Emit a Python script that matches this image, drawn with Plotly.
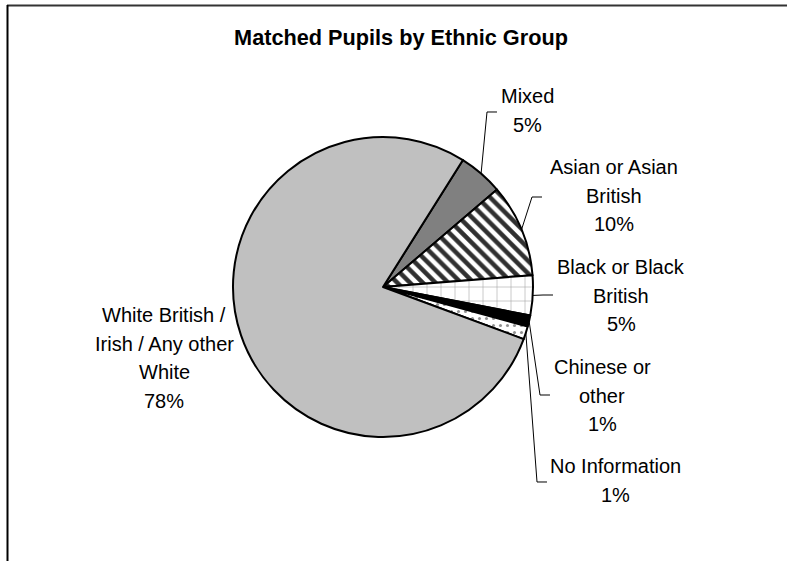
import math
import plotly.graph_objects as go

# ---- data ----
categories = ["Mixed", "Asian or Asian British", "Black or Black British",
              "Chinese or other", "No Information",
              "White British / Irish / Any other White"]
values = [4.8, 10.0, 4.3, 1.2, 1.4, 78.3]
pct_labels = ["5%", "10%", "5%", "1%", "1%", "78%"]
label_lines = [["Mixed"], ["Asian or Asian", "British"], ["Black or Black", "British"],
               ["Chinese or", "other"], ["No Information"],
               ["White British /", "Irish / Any other", "White"]]

# ---- layout / style (pixels) ----
W, H = 787, 561
CX, CY, R = 383, 287, 150
ROT = 32.2
label_pos = [(527, 96), (614, 167), (621, 267), (602, 367), (615, 466), (164, 315)]
line_gap = 28.6
leader_elbow = [(487, 112), (532, 197), (543, 295), (540, 395), (537, 482), None]
leader_end = [(497, 112), (542, 197), (553, 295), (550, 395), (547, 482), None]

colors = ["#808080", "#ffffff", "#ffffff", "#000000", "#ffffff", "#c0c0c0"]
patterns = [
    dict(shape=""),
    dict(shape="\\", fgcolor="#303030", bgcolor="#ffffff", size=9, solidity=0.5),
    dict(shape="+", fgcolor="#a0a0a0", bgcolor="#ffffff", size=14, solidity=0.08),
    dict(shape=""),
    dict(shape=".", fgcolor="#909090", bgcolor="#ffffff", size=7, solidity=0.15),
    dict(shape=""),
]


def P(x, y):
    return x / W, 1 - y / H


fig = go.Figure(go.Pie(
    labels=categories, values=values, sort=False, direction="clockwise",
    rotation=ROT, textinfo="none", hoverinfo="label+percent",
    marker=dict(colors=colors, line=dict(color="black", width=2),
                pattern=dict(shape=[p.get("shape", "") for p in patterns],
                             fgcolor=[p.get("fgcolor", "#000") for p in patterns],
                             bgcolor=[p.get("bgcolor", c) for p, c in zip(patterns, colors)],
                             size=[p.get("size", 8) for p in patterns],
                             solidity=[p.get("solidity", 0.3) for p in patterns],
                             fgopacity=1, fillmode="replace")),
    domain=dict(x=[(CX - R) / W, (CX + R) / W], y=[1 - (CY + R) / H, 1 - (CY - R) / H]),
    showlegend=False,
))

annotations = []
shapes = []
font = dict(family="Liberation Sans, Arial, sans-serif", size=20, color="black")

total = sum(values)
cum = 0
for i, v in enumerate(values):
    mid = ROT + (cum + v / 2) / total * 360
    cum += v
    lines = label_lines[i] + [pct_labels[i]]
    lx, ly = label_pos[i]
    for k, t in enumerate(lines):
        ax_, ay_ = P(lx, ly + k * line_gap)
        annotations.append(dict(x=ax_, y=ay_, xref="paper", yref="paper", text=t,
                                showarrow=False, xanchor="center", yanchor="middle",
                                font=font))
    if leader_elbow[i] is not None:
        a = math.radians(mid)
        ex, ey = CX + R * math.sin(a), CY - R * math.cos(a)
        pts = [P(ex, ey), P(*leader_elbow[i]), P(*leader_end[i])]
        path = "M %f,%f L %f,%f L %f,%f" % (pts[0][0], pts[0][1], pts[1][0], pts[1][1],
                                             pts[2][0], pts[2][1])
        shapes.append(dict(type="path", xref="paper", yref="paper", path=path,
                           line=dict(color="black", width=1)))

# chart border (top and left)
x0, y0 = P(7, 5.5)
x1, _ = P(787, 5.5)
shapes.append(dict(type="line", xref="paper", yref="paper", x0=x0, y0=y0, x1=x1, y1=y0,
                   line=dict(color="#333333", width=2)))
lx0, ly0 = P(7.5, 5)
_, ly1 = P(7.5, 561)
shapes.append(dict(type="line", xref="paper", yref="paper", x0=lx0, y0=ly0, x1=lx0, y1=ly1,
                   line=dict(color="black", width=2)))

tx, ty = P(401, 37)
fig.update_layout(
    width=W, height=H, margin=dict(l=0, r=0, t=0, b=0),
    paper_bgcolor="white", plot_bgcolor="white",
    title=dict(text="<b>Matched Pupils by Ethnic Group</b>", x=tx, y=ty,
               xref="paper", yref="paper", xanchor="center", yanchor="middle",
               font=dict(family="Liberation Sans, Arial, sans-serif", size=21.7, color="black")),
    annotations=annotations, shapes=shapes,
)

fig.write_html("out.html", config={"displayModeBar": False},
               post_script="document.body.style.margin='0px';")
